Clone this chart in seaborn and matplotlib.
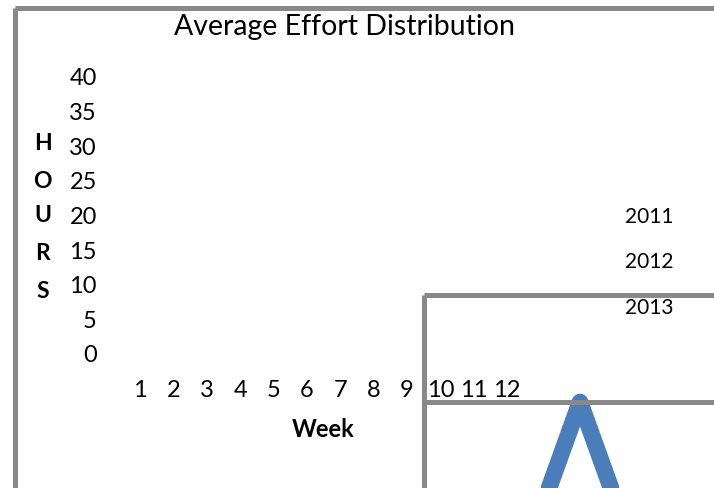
import numpy as np
import pandas as pd
import matplotlib
matplotlib.use("Agg")
import matplotlib.pyplot as plt
from matplotlib.lines import Line2D
import seaborn as sns

# chart data
weeks = list(range(1, 13))
hours_ticks = [0, 5, 10, 15, 20, 25, 30, 35, 40]
years = ["2011", "2012", "2013"]
# the only visible series stroke: a big spike peaking at the bottom right
spike_x = [0, 1, 2]
spike_y = [0, 1, 0]

sns.set_theme(style="white")
plt.rcParams["font.family"] = ["Lato", "DejaVu Sans"]

W, H = 714, 489
fig = plt.figure(figsize=(W / 100, H / 100), dpi=100)
fig.patch.set_facecolor("white")

def fx(px):
    return px / W

def fy(py):
    return 1 - py / H

# main plot area (no spines, only tick labels)
ax = fig.add_axes([fx(123.3), fy(354), fx(523.7) - fx(123.3), fy(77) - fy(354)])
ax.set_xlim(0.5, 12.5)
ax.set_ylim(0, 40)
ax.set_xticks(weeks)
ax.set_xticklabels([str(w) for w in weeks])
ax.set_yticks(hours_ticks)
ax.set_yticklabels([str(h) for h in hours_ticks])
ax.tick_params(axis="x", length=0, pad=19, labelsize=17, colors="black")
ax.tick_params(axis="y", length=0, pad=19, labelsize=17, colors="black")
for s in ax.spines.values():
    s.set_visible(False)
ax.patch.set_alpha(0)

fig.text(fx(345), fy(35.5), "Average Effort Distribution", ha="center", va="baseline",
         fontsize=20.5, color="black")
fig.text(fx(323.5), fy(430), "Week", ha="center", va="center", fontsize=17,
         fontweight="bold", color="black")
for letter, py in zip("HOURS", [144, 182, 216, 253, 291]):
    fig.text(fx(42.5), fy(py), letter, ha="center", va="center", fontsize=16.5,
             fontweight="bold", color="black")

# legend labels without markers
for yr, py in zip(years, [217, 262, 308]):
    fig.text(fx(625), fy(py), yr, ha="left", va="center", fontsize=15, color="black")

# frame lines
gray = "#898989"
lw = 3.6
for xs, ys in [([14.5, 14.5], [8.5, H + 5]), ([14.5, W + 5], [8.5, 8.5]),
               ([424, 424], [296, H + 5]), ([424, W + 5], [296, 296]),
               ([424, W + 5], [403, 403])]:
    fig.add_artist(Line2D([fx(x) for x in xs], [fy(y) for y in ys], color=gray,
                          lw=lw, transform=fig.transFigure, solid_capstyle="butt",
                          solid_joinstyle="round"))

# the spike
ax2 = fig.add_axes([fx(549), fy(489), fx(611) - fx(549), fy(403) - fy(489)])
ax2.set_xlim(0, 2)
ax2.set_ylim(0, 1)
ax2.axis("off")
sns.lineplot(x=spike_x, y=spike_y, ax=ax2, color="#4a7ebb", lw=12, clip_on=False,
             solid_capstyle="round", solid_joinstyle="round")

fig.savefig("out.png", dpi=100, facecolor="white")
